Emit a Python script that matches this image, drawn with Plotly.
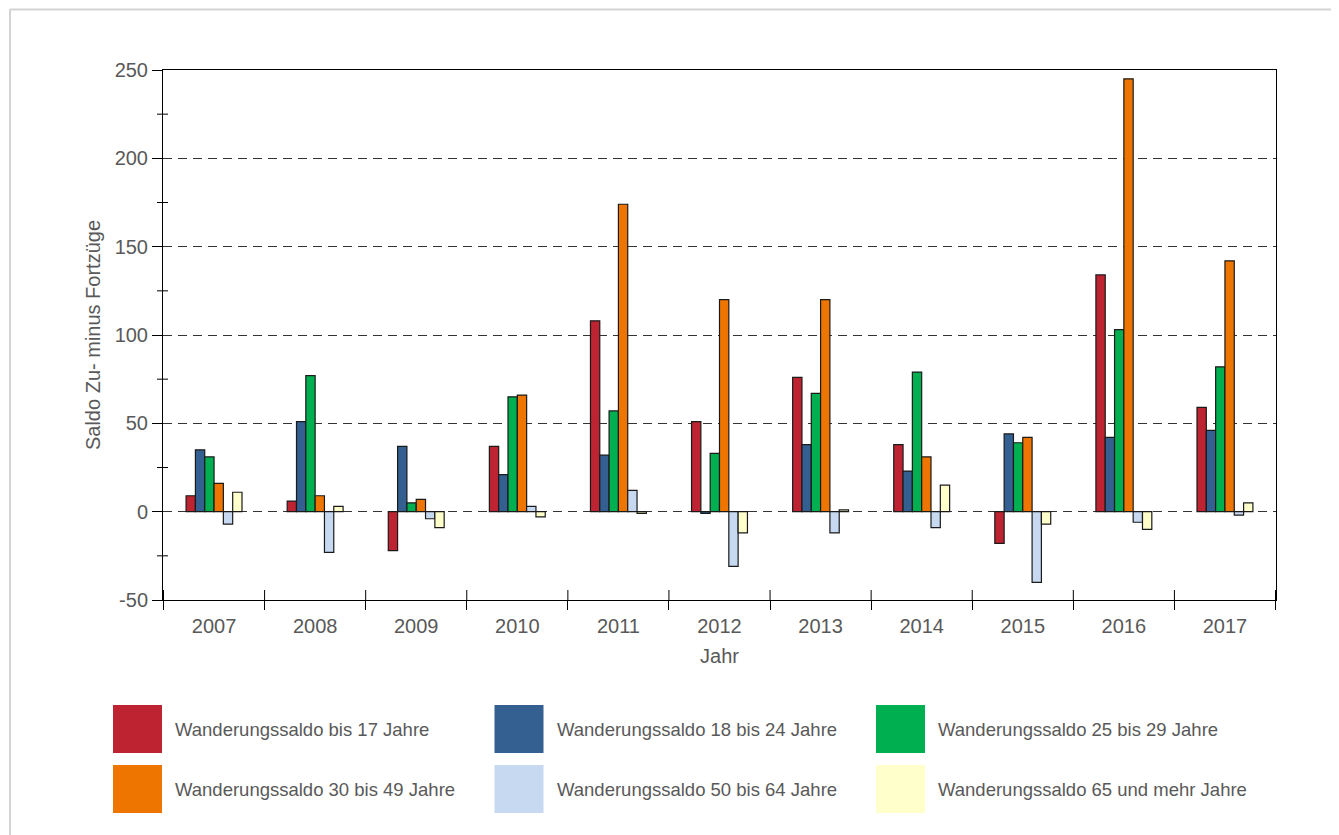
import plotly.graph_objects as go

years = ["2007", "2008", "2009", "2010", "2011", "2012", "2013", "2014", "2015", "2016", "2017"]

series_names = [
    "Wanderungssaldo bis 17 Jahre",
    "Wanderungssaldo 18 bis 24 Jahre",
    "Wanderungssaldo 25 bis 29 Jahre",
    "Wanderungssaldo 30 bis 49 Jahre",
    "Wanderungssaldo 50 bis 64 Jahre",
    "Wanderungssaldo 65 und mehr Jahre",
]

bis_17 = [9, 6, -22, 37, 108, 51, 76, 38, -18, 134, 59]
j18_24 = [35, 51, 37, 21, 32, -1, 38, 23, 44, 42, 46]
j25_29 = [31, 77, 5, 65, 57, 33, 67, 79, 39, 103, 82]
j30_49 = [16, 9, 7, 66, 174, 120, 120, 31, 42, 245, 142]
j50_64 = [-7, -23, -4, 3, 12, -31, -12, -9, -40, -6, -2]
j65_plus = [11, 3, -9, -3, -1, -12, 1, 15, -7, -10, 5]

y_tickvals = [-50, 0, 50, 100, 150, 200, 250]
y_ticktext = ["-50", "0", "50", "100", "150", "200", "250"]

series_values = [bis_17, j18_24, j25_29, j30_49, j50_64, j65_plus]
colors = ["#BE2331", "#345F91", "#00AF50", "#EE7600", "#C6D9F1", "#FFFFCC"]

OFF = 8  # page body margin
W, H = 1339 - OFF, 835 - OFF
# plot area in page pixels
L, R, T, B = 163, 1276, 70, 600
PW, PH = R - L, B - T


def px2x(px):
    return (px - L) / PW


def py2y(py):
    return (B - py) / PH


font_family = "Liberation Sans, Arial, sans-serif"
text_color = "#595959"

fig = go.Figure()
for name, vals, col in zip(series_names, series_values, colors):
    fig.add_trace(go.Bar(
        x=years, y=vals, name=name,
        marker=dict(color=col, line=dict(color="#1a1a1a", width=1.2)),
        showlegend=False,
    ))

shapes = []
# frame around the whole chart
shapes.append(dict(type="line", xref="paper", yref="paper",
                   x0=px2x(10), x1=px2x(10), y0=py2y(9), y1=py2y(840),
                   line=dict(color="#d4d4d4", width=2)))
shapes.append(dict(type="line", xref="paper", yref="paper",
                   x0=px2x(10), x1=px2x(1345), y0=py2y(9.5), y1=py2y(9.5),
                   line=dict(color="#d4d4d4", width=2)))
# x ticks crossing into plot area
for i in range(len(years) + 1):
    shapes.append(dict(type="line", xref="x", yref="paper",
                       x0=i - 0.5, x1=i - 0.5, y0=0, y1=10 / PH,
                       line=dict(color="black", width=1)))
# minor y ticks crossing the axis
for v in range(-25, 250, 50):
    shapes.append(dict(type="line", xref="paper", yref="y",
                       x0=px2x(157), x1=px2x(168), y0=v, y1=v,
                       line=dict(color="black", width=1)))

annotations = []
# manual legend with large swatches
for i, (name, col) in enumerate(zip(series_names, colors)):
    row, c = divmod(i, 3)
    x0 = 113 + c * 381.5
    y0 = 705 + row * 60
    shapes.append(dict(type="rect", xref="paper", yref="paper",
                       x0=px2x(x0), x1=px2x(x0 + 49), y0=py2y(y0), y1=py2y(y0 + 48),
                       fillcolor=col, line=dict(width=0)))
    annotations.append(dict(xref="paper", yref="paper", x=px2x(x0 + 60), y=py2y(y0 + 24),
                            text=name, showarrow=False, xanchor="left", yanchor="middle",
                            font=dict(family=font_family, size=18.5, color=text_color)))

fig.update_layout(
    width=W, height=H,
    margin=dict(l=L - OFF, r=W - (R - OFF), t=T - OFF, b=H - (B - OFF), pad=0),
    paper_bgcolor="white", plot_bgcolor="white",
    barmode="group", bargap=0.447, bargroupgap=0,
    font=dict(family=font_family, size=20, color=text_color),
    shapes=shapes, annotations=annotations,
    xaxis=dict(
        type="category", tickson="boundaries", ticks="outside", ticklen=9,
        tickcolor="black", showline=True, linecolor="black", linewidth=1, mirror=True,
        showgrid=False, ticklabelstandoff=8,
        tickfont=dict(size=20, color=text_color),
        title=dict(text="Jahr", standoff=12, font=dict(size=20, color=text_color)),
    ),
    yaxis=dict(
        range=[-50, 250], tickmode="array", tickvals=y_tickvals, ticktext=y_ticktext,
        ticks="outside", ticklen=10, tickcolor="black",
        showline=True, linecolor="black", linewidth=1, mirror=True,
        showgrid=True, gridcolor="#333333", griddash="9px,6px", gridwidth=1,
        zeroline=False,
        tickfont=dict(size=20, color=text_color),
        title=dict(text="Saldo Zu- minus Fortzüge", standoff=8,
                   font=dict(size=20, color=text_color)),
    ),
)

fig.write_html("out.html")
